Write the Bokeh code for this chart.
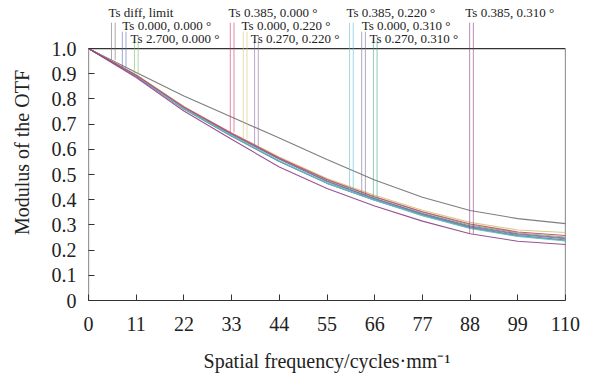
import numpy as np
from bokeh.plotting import figure
from bokeh.models import FixedTicker, Range1d
from bokeh.core.properties import value
from bokeh.embed import file_html
from bokeh.resources import INLINE

# ---------------- data ----------------
freq = [0, 11, 22, 33, 44, 55, 66, 77, 88, 99, 110]
x_ticks = [0, 11, 22, 33, 44, 55, 66, 77, 88, 99, 110]
y_ticks = [0, 0.1, 0.2, 0.3, 0.4, 0.5, 0.6, 0.7, 0.8, 0.9, 1.0]
y_tick_labels = ["0", "0.1", "0.2", "0.3", "0.4", "0.5", "0.6", "0.7", "0.8", "0.9", "1.0"]

series_names = [
    "Ts diff, limit",
    "Ts 0.000, 0.000 °",
    "Ts 2.700, 0.000 °",
    "Ts 0.385, 0.000 °",
    "Ts 0.000, 0.220 °",
    "Ts 0.270, 0.220 °",
    "Ts 0.385, 0.220 °",
    "Ts 0.000, 0.310 °",
    "Ts 0.270, 0.310 °",
    "Ts 0.385, 0.310 °",
]
mtf_diff   = [1.0, 0.905, 0.812, 0.728, 0.645, 0.560, 0.478, 0.410, 0.357, 0.325, 0.305]
mtf_0_0    = [1.0, 0.893, 0.765, 0.660, 0.562, 0.474, 0.405, 0.345, 0.296, 0.265, 0.248]
mtf_27_0   = [1.0, 0.895, 0.768, 0.663, 0.565, 0.478, 0.410, 0.350, 0.300, 0.268, 0.252]
mtf_385_0  = [1.0, 0.894, 0.768, 0.664, 0.566, 0.480, 0.412, 0.352, 0.304, 0.272, 0.258]
mtf_0_22   = [1.0, 0.896, 0.770, 0.665, 0.570, 0.484, 0.418, 0.358, 0.310, 0.280, 0.270]
mtf_27_22  = [1.0, 0.892, 0.763, 0.660, 0.562, 0.472, 0.403, 0.343, 0.293, 0.262, 0.245]
mtf_385_22 = [1.0, 0.892, 0.762, 0.655, 0.555, 0.466, 0.398, 0.337, 0.286, 0.254, 0.236]
mtf_0_31   = [1.0, 0.890, 0.760, 0.652, 0.552, 0.465, 0.398, 0.340, 0.290, 0.258, 0.240]
mtf_27_31  = [1.0, 0.891, 0.761, 0.654, 0.553, 0.466, 0.399, 0.338, 0.288, 0.256, 0.238]
mtf_385_31 = [1.0, 0.885, 0.752, 0.640, 0.530, 0.445, 0.375, 0.315, 0.265, 0.235, 0.222]

all_series = [mtf_diff, mtf_0_0, mtf_27_0, mtf_385_0, mtf_0_22,
              mtf_27_22, mtf_385_22, mtf_0_31, mtf_27_31, mtf_385_31]

# ---------------- styling / layout ----------------
colors = ["#707070", "#5c6bb5", "#7dbb6a", "#c8406e", "#d4c47a",
          "#8a6aaa", "#5fbfcf", "#7a6f8f", "#4aa58a", "#8e3f85"]
draw_order = [0, 1, 2, 4, 5, 7, 8, 6, 3, 9]

# legend annotation layout (in axis units)
marker_x = [5.3, 7.8, 10.6, 32.7, 35.7, 38.3, 60.2, 63.0, 65.7, 87.9]
label_x = [4.6, 7.8, 9.7, 32.3, 35.3, 37.4, 59.5, 63.0, 64.8, 86.9]
label_row = [0, 1, 2, 0, 1, 2, 0, 1, 2, 0]
row_text_y = [1.143, 1.091, 1.040]
row_line_top = [1.103, 1.067, 1.032]

FONT = "Liberation Serif"

p = figure(width=592, height=378, output_backend="svg", toolbar_location=None,
           x_range=Range1d(0, 110), y_range=Range1d(0, 1.175),
           min_border_left=88, min_border_right=27,
           min_border_top=4, min_border_bottom=78)
p.outline_line_color = None
p.grid.grid_line_color = None
p.background_fill_color = "white"
p.border_fill_color = "white"

# axes
p.xaxis.ticker = FixedTicker(ticks=x_ticks)
p.yaxis.ticker = FixedTicker(ticks=y_ticks)
p.yaxis.major_label_overrides = {t: s for t, s in zip(y_ticks, y_tick_labels)}
p.xaxis.axis_label = "Spatial frequency/cycles·mm⁻¹"
p.yaxis.axis_label = "Modulus of the OTF"
for ax in (p.xaxis, p.yaxis):
    ax.major_label_text_font = FONT
    ax.major_label_text_font_size = "20px"
    ax.major_label_text_color = "#222222"
    ax.axis_label_text_font = FONT
    ax.axis_label_text_font_size = "20px"
    ax.axis_label_text_font_style = "normal"
    ax.axis_label_text_color = "#222222"
    ax.major_tick_in = 6
    ax.major_tick_out = 0
    ax.minor_tick_line_color = None
    ax.major_tick_line_color = "#333333"
    ax.axis_line_color = "#333333"
p.yaxis.axis_line_color = None
p.yaxis.major_label_standoff = 12
p.yaxis.axis_label_standoff = 16
p.xaxis.major_label_standoff = 16
p.xaxis.axis_label_standoff = 16

# frame border (left, top, right)
xmax = x_ticks[-1]
ymax = y_ticks[-1]
p.line([0, 0, xmax, xmax], [0, ymax, ymax, 0], line_color="#333333", line_width=1.2)

# curves
for i in draw_order:
    p.line(freq, all_series[i], line_color=colors[i], line_width=1.1, line_alpha=0.9)

# legend markers and labels
for i, name in enumerate(series_names):
    r = label_row[i]
    mx = marker_x[i]
    yend = float(np.interp(mx, freq, all_series[i]))
    for dx in (0.0, 0.85):
        p.segment(x0=[mx + dx], y0=[row_line_top[r]], x1=[mx + dx], y1=[yend],
                  line_color=colors[i], line_width=1, line_alpha=0.6)
    p.text(x=[label_x[i]], y=[row_text_y[r]], text=[name],
           text_font=value(FONT), text_font_size="13px", text_color="#222222",
           text_baseline="middle", text_align="left")

open("out.html", "w").write(file_html(p, INLINE))
